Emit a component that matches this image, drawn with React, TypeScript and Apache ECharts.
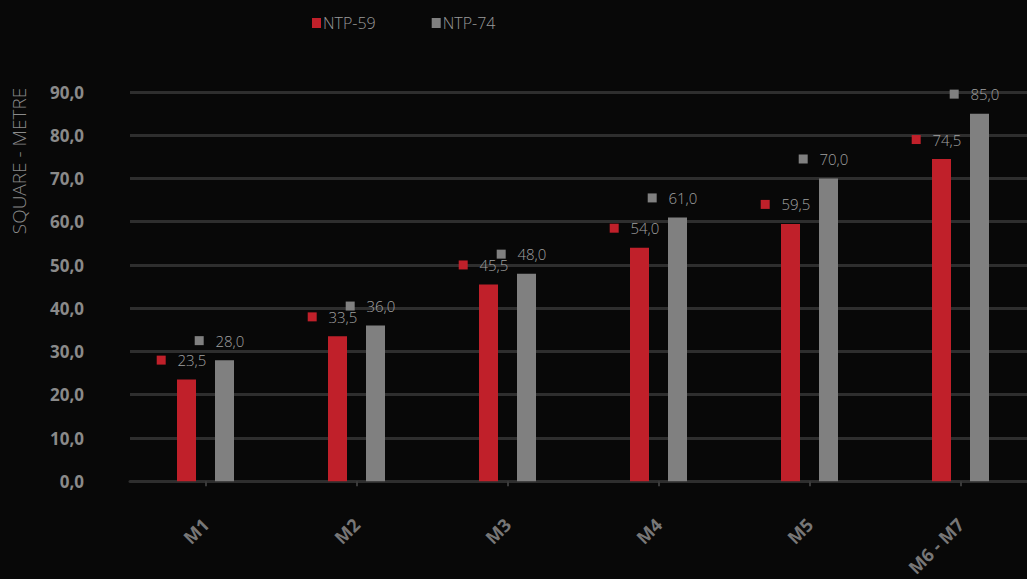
import React, { useEffect, useRef } from "react";
import * as echarts from "echarts";

const categories = ["M1", "M2", "M3", "M4", "M5", "M6 - M7"];
const ntp59 = [23.5, 33.5, 45.5, 54.0, 59.5, 74.5];
const ntp74 = [28.0, 36.0, 48.0, 61.0, 70.0, 85.0];
const seriesNames = ["NTP-59", "NTP-74"];
const colors = ["#c0202a", "#808080"];
const yTicks = { min: 0, max: 90, interval: 10 };

const fmt = (v: number) => v.toFixed(1).replace(".", ",");

export default function App() {
  const ref = useRef<HTMLDivElement>(null);
  useEffect(() => {
    if (!ref.current) return;
    const chart = echarts.init(ref.current, null, { renderer: "svg" });
    const font = "'Open Sans', 'Noto Sans', sans-serif";
    const mkLabel = (color: string) => ({
      show: true,
      position: "top" as const,
      distance: 12,
      offset: [-5, 0],
      formatter: (p: any) => `{m|}{t|   ${fmt(p.value)}}`,
      rich: {
        m: { backgroundColor: color, width: 9, height: 9 },
        t: { color: "#a0a0a0", fontSize: 15, fontFamily: font, fontWeight: 300 },
      },
    });
    chart.setOption({
      animation: false,
      backgroundColor: "#080808",
      textStyle: { fontFamily: font },
      legend: {
        top: 10,
        left: 307,
        itemWidth: 9,
        itemHeight: 10,
        itemGap: 56,
        icon: "rect",
        textStyle: { color: "#9a9a9a", fontSize: 16, fontFamily: font, fontWeight: 300, padding: [0, 0, 0, -3] },
        data: seriesNames,
      },
      grid: { left: 130, right: 4, top: 92, bottom: 95, containLabel: false },
      xAxis: {
        type: "category",
        data: categories,
        axisLine: { lineStyle: { color: "#2e2e2e", width: 3 } },
        axisTick: { show: true, alignWithLabel: true, length: 5, lineStyle: { color: "#3a3a3a", width: 2 } },
        axisLabel: {
          rotate: 45,
          margin: 40,
          color: "#777777",
          fontSize: 18,
          fontWeight: "bold",
          fontFamily: font,
        },
      },
      yAxis: {
        type: "value",
        min: yTicks.min,
        max: yTicks.max,
        interval: yTicks.interval,
        axisLine: { show: false },
        axisTick: { show: false },
        splitLine: { lineStyle: { color: "#2e2e2e", width: 3 } },
        axisLabel: {
          margin: 46,
          color: "#8a8a8a",
          fontSize: 17,
          fontWeight: "bold",
          fontFamily: font,
          formatter: (v: number) => fmt(v),
        },
      },
      graphic: [
        {
          type: "text",
          x: 19,
          y: 161,
          rotation: Math.PI / 2,
          style: {
            text: "SQUARE - METRE",
            fill: "#8a8a8a",
            font: `300 19px ${font}`,
            textAlign: "center",
            textVerticalAlign: "middle",
          },
        },
      ],
      series: [
        {
          name: seriesNames[0],
          type: "bar",
          data: ntp59,
          barWidth: 19,
          barGap: "100%",
          itemStyle: { color: colors[0] },
          label: mkLabel(colors[0]),
        },
        {
          name: seriesNames[1],
          type: "bar",
          data: ntp74,
          barWidth: 19,
          barGap: "100%",
          itemStyle: { color: colors[1] },
          label: mkLabel(colors[1]),
        },
      ],
    });
    return () => chart.dispose();
  }, []);
  return (
    <div style={{ position: "fixed", left: 0, top: 0, width: 1027, height: 579, overflow: "hidden" }}>
      <div ref={ref} style={{ width: 1040, height: 579 }} />
    </div>
  );
}
